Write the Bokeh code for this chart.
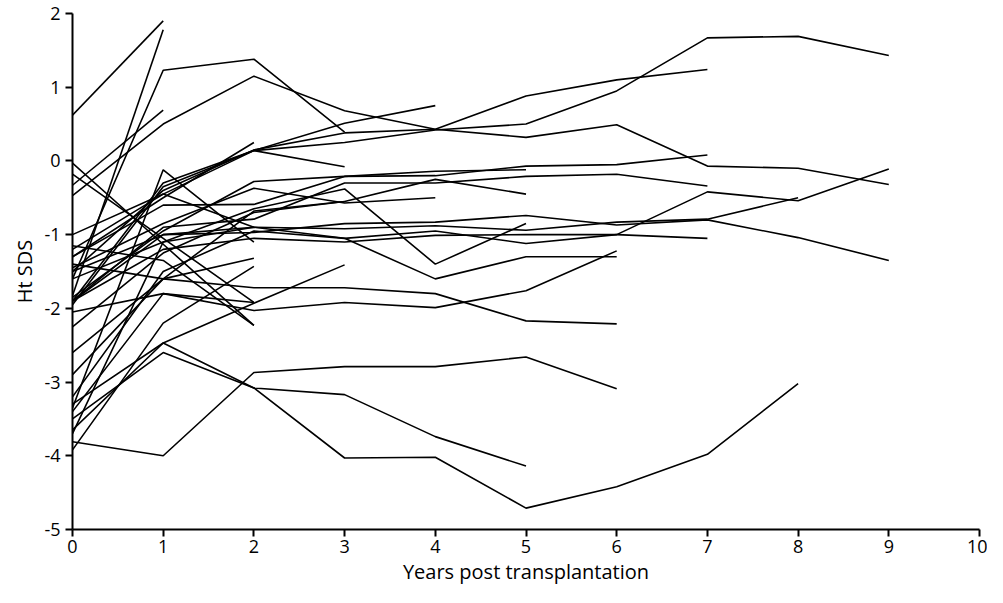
from bokeh.plotting import figure
from bokeh.models import Range1d, FixedTicker
from bokeh.embed import file_html
from bokeh.resources import INLINE

# Years after transplantation (x positions of measurements)
years = list(range(11))

# Height SDS per patient, one value per year starting at year 0
p01 = [0.62, 1.90]
p02 = [-1.83, 1.78]
p03 = [-0.33, 0.69]
p04 = [-1.60, 1.23, 1.38, 0.39]
p05 = [-0.47, 0.50, 1.15, 0.68, 0.43, 0.32, 0.49, -0.07, -0.10, -0.32]
p06 = [-1.90, -0.30, 0.14, 0.25, 0.42, 0.50, 0.95, 1.67, 1.69, 1.43]
p07 = [-1.50, -0.40, 0.15, 0.38, 0.43, 0.88, 1.10, 1.24]
p08 = [-1.20, -0.45, 0.14, 0.51, 0.75]
p09 = [-1.95, -0.35, 0.14, -0.08]
p10 = [-1.30, -0.50, 0.25]
p11 = [-0.03, -1.13, -2.23]
p12 = [-0.18, -1.05, -1.92]
p13 = [-1.90, -1.00, -0.90, -1.05, -0.95, -1.12, -1.00, -0.42, -0.54, -0.11]
p14 = [-1.50, -1.00, -0.97, -0.85, -0.83, -0.74, -0.87, -0.80, -1.04, -1.35]
p15 = [-1.60, -1.10, -0.90, -0.92, -0.88, -0.94, -0.83, -0.79, -0.50]
p16 = [-3.50, -2.60, -3.08, -4.03, -4.02, -4.71, -4.42, -3.98, -3.02]
p17 = [-1.30, -0.60, -0.59, -0.21, -0.20, -0.07, -0.05, 0.08]
p18 = [-1.90, -0.90, -0.79, -0.30, -0.30, -0.21, -0.18, -0.34]
p19 = [-1.90, -1.20, -1.05, -1.10, -1.01, -1.00, -1.00, -1.05]
p20 = [-3.20, -1.50, -0.95, -1.05, -1.60, -1.30, -1.30]
p21 = [-2.05, -1.80, -2.03, -1.92, -1.99, -1.76, -1.22]
p22 = [-1.40, -1.60, -1.72, -1.72, -1.80, -2.17, -2.21]
p23 = [-3.81, -4.00, -2.87, -2.79, -2.79, -2.66, -3.09]
p24 = [-1.85, -0.95, -0.28, -0.21, -0.14, -0.12]
p25 = [-2.60, -1.60, -0.68, -0.55, -0.25, -0.45]
p26 = [-3.70, -1.10, -0.65, -0.38, -1.40, -0.85]
p27 = [-3.30, -2.47, -3.08, -3.17, -3.74, -4.14]
p28 = [-1.45, -0.85, -0.37, -0.57, -0.50]
p29 = [-2.25, -1.25, -0.70, -0.55]
p30 = [-3.65, -2.47, -1.93, -1.41]
p31 = [-1.15, -1.35, -2.23]
p32 = [-3.40, -1.80, -1.92]
p33 = [-2.90, -1.60, -1.32]
p34 = [-3.92, -2.20, -1.43]
p35 = [-1.00, -0.45, -0.90]
p36 = [-3.35, -0.12, -1.10]

patients = [p01, p02, p03, p04, p05, p06, p07, p08, p09, p10, p11, p12,
            p13, p14, p15, p16, p17, p18, p19, p20, p21, p22, p23, p24,
            p25, p26, p27, p28, p29, p30, p31, p32, p33, p34, p35, p36]

x_ticks = list(range(0, 11))
y_ticks = list(range(-5, 3))
x_title = "Years post transplantation"
y_title = "Ht SDS"

FONT = "Open Sans"

p = figure(width=987, height=587,
           x_range=Range1d(0, 10), y_range=Range1d(-5, 2),
           output_backend="svg", toolbar_location=None,
           min_border_left=72, min_border_right=8,
           min_border_top=13, min_border_bottom=40)
p.outline_line_color = None
p.grid.visible = False
p.background_fill_color = "white"

for s in patients:
    p.line(years[:len(s)], s, line_color="black", line_width=1.6)

p.xaxis.ticker = FixedTicker(ticks=x_ticks)
p.yaxis.ticker = FixedTicker(ticks=y_ticks)
p.yaxis.major_label_overrides = {v: str(v) for v in y_ticks}
p.xaxis.major_label_overrides = {v: str(v) for v in x_ticks}

for ax in (p.xaxis, p.yaxis):
    ax.axis_line_width = 2
    ax.axis_line_color = "black"
    ax.major_tick_line_width = 2
    ax.major_tick_line_color = "black"
    ax.major_tick_out = 7
    ax.major_tick_in = 0
    ax.minor_tick_line_color = None
    ax.major_label_text_font = FONT
    ax.major_label_text_font_size = "18px"
    ax.major_label_text_color = "black"
    ax.axis_label_text_font = FONT
    ax.axis_label_text_font_size = "20px"
    ax.axis_label_text_font_style = "normal"
    ax.axis_label_text_color = "black"

p.xaxis.axis_label = x_title
p.yaxis.axis_label = y_title
p.xaxis.major_label_standoff = 3
p.yaxis.major_label_standoff = 5
p.xaxis.axis_label_standoff = 2
p.yaxis.axis_label_standoff = 3

open("out.html", "w").write(file_html(p, INLINE))
